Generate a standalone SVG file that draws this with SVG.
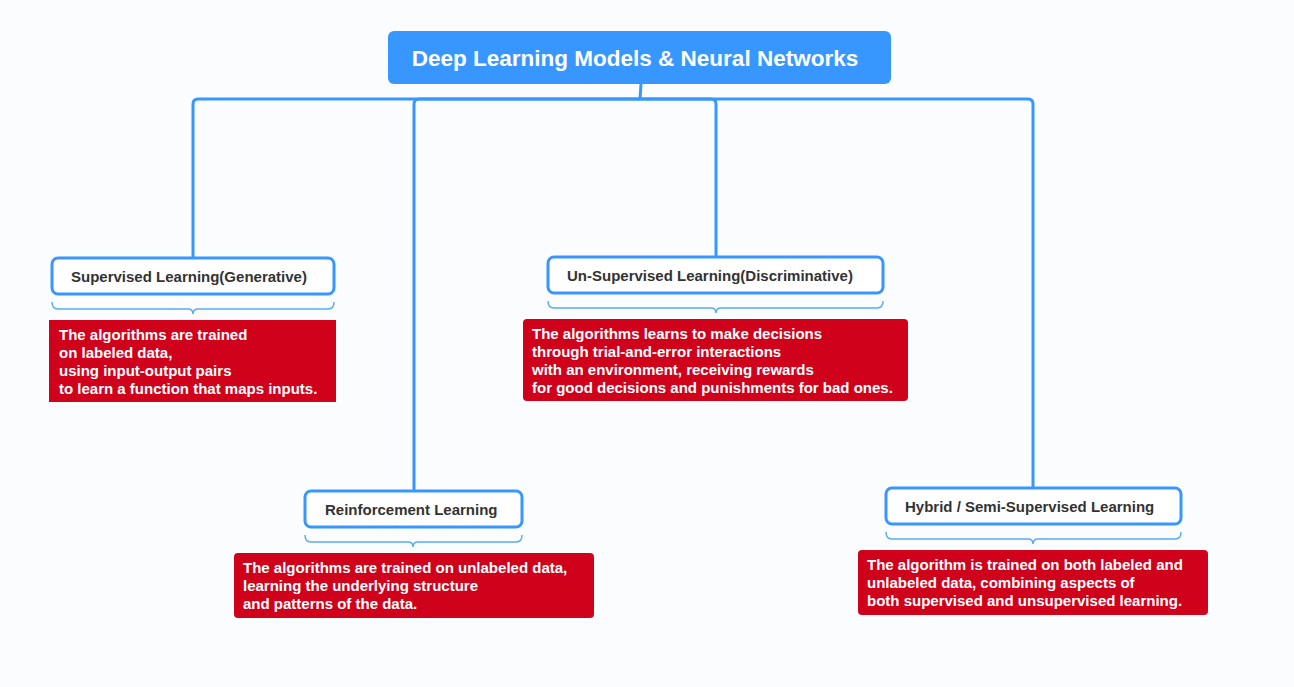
<svg xmlns="http://www.w3.org/2000/svg" width="1294" height="687" viewBox="0 0 1294 687">
<style>
.bg{fill:#FBFCFE}
.root{fill:#3897FF}
.rt{font-family:"Liberation Sans",Arial,sans-serif;font-weight:bold;font-size:22.5px;fill:#fff}
.node{fill:#fff;stroke:#3897FF;stroke-width:3}
.nt{font-family:"Liberation Sans",Arial,sans-serif;font-weight:bold;font-size:15px;fill:#333}
.note{fill:#D0021B}
.tt{font-family:"Liberation Sans",Arial,sans-serif;font-weight:bold;font-size:15px;fill:#fff}
.conn{fill:none;stroke:#3897FF;stroke-width:3;stroke-linejoin:round}
.brace{fill:none;stroke:#5AABF7;stroke-width:1.5}
</style>
<rect class="bg" x="0" y="0" width="1294" height="687"/>
<g id="connectors">
<path class="conn" d="M641,84 L640,99"/>
<path class="conn" d="M193,258 L193,104 Q193,99 198,99 L1028,99 Q1033,99 1033,104 L1033,488"/>
<path class="conn" d="M414,491 L414,104 Q414,99 419,99 L711,99 Q716,99 716,104 L716,257"/>
</g>
<g id="root">
<rect class="root" x="388" y="31" width="503" height="53" rx="6"/>
<text class="rt" x="635" y="66" text-anchor="middle">Deep Learning Models &amp; Neural Networks</text>
</g>
<g id="supervised">
<rect class="node" x="52" y="258" width="282" height="36" rx="6"/>
<text class="nt" x="71" y="282">Supervised Learning(Generative)</text>
<path class="brace" d="M52,302 Q52,309 58,309 L188,309 Q193,309 193,314 Q193,309 198,309 L328,309 Q334,309 334,302"/>
<rect class="note" x="49" y="320" width="287" height="82"/>
<text class="tt" x="59" y="340">The algorithms are trained</text>
<text class="tt" x="59" y="358">on labeled data,</text>
<text class="tt" x="59" y="376">using input-output pairs</text>
<text class="tt" x="59" y="394">to learn a function that maps inputs.</text>
</g>
<g id="unsupervised">
<rect class="node" x="548" y="257" width="335" height="36" rx="6"/>
<text class="nt" x="567" y="281">Un-Supervised Learning(Discriminative)</text>
<path class="brace" d="M548,301 Q548,308 554,308 L711,308 Q716,308 716,313 Q716,308 721,308 L877,308 Q883,308 883,301"/>
<rect class="note" x="523" y="319" width="385" height="82" rx="4"/>
<text class="tt" x="532" y="339">The algorithms learns to make decisions</text>
<text class="tt" x="532" y="357">through trial-and-error interactions</text>
<text class="tt" x="532" y="375">with an environment, receiving rewards</text>
<text class="tt" x="532" y="393">for good decisions and punishments for bad ones.</text>
</g>
<g id="reinforcement">
<rect class="node" x="305" y="491" width="217" height="36" rx="6"/>
<text class="nt" x="325" y="515">Reinforcement Learning</text>
<path class="brace" d="M305,535 Q305,542 311,542 L408,542 Q413,542 413,547 Q413,542 418,542 L516,542 Q522,542 522,535"/>
<rect class="note" x="234" y="553" width="360" height="65" rx="4"/>
<text class="tt" x="243" y="573">The algorithms are trained on unlabeled data,</text>
<text class="tt" x="243" y="591">learning the underlying structure</text>
<text class="tt" x="243" y="609">and patterns of the data.</text>
</g>
<g id="hybrid">
<rect class="node" x="886" y="488" width="295" height="36" rx="6"/>
<text class="nt" x="905" y="512">Hybrid / Semi-Supervised Learning</text>
<path class="brace" d="M886,532 Q886,539 892,539 L1028,539 Q1033,539 1033,544 Q1033,539 1038,539 L1175,539 Q1181,539 1181,532"/>
<rect class="note" x="858" y="550" width="350" height="65" rx="4"/>
<text class="tt" x="867" y="570">The algorithm is trained on both labeled and</text>
<text class="tt" x="867" y="588">unlabeled data, combining aspects of</text>
<text class="tt" x="867" y="606">both supervised and unsupervised learning.</text>
</g>
</svg>
